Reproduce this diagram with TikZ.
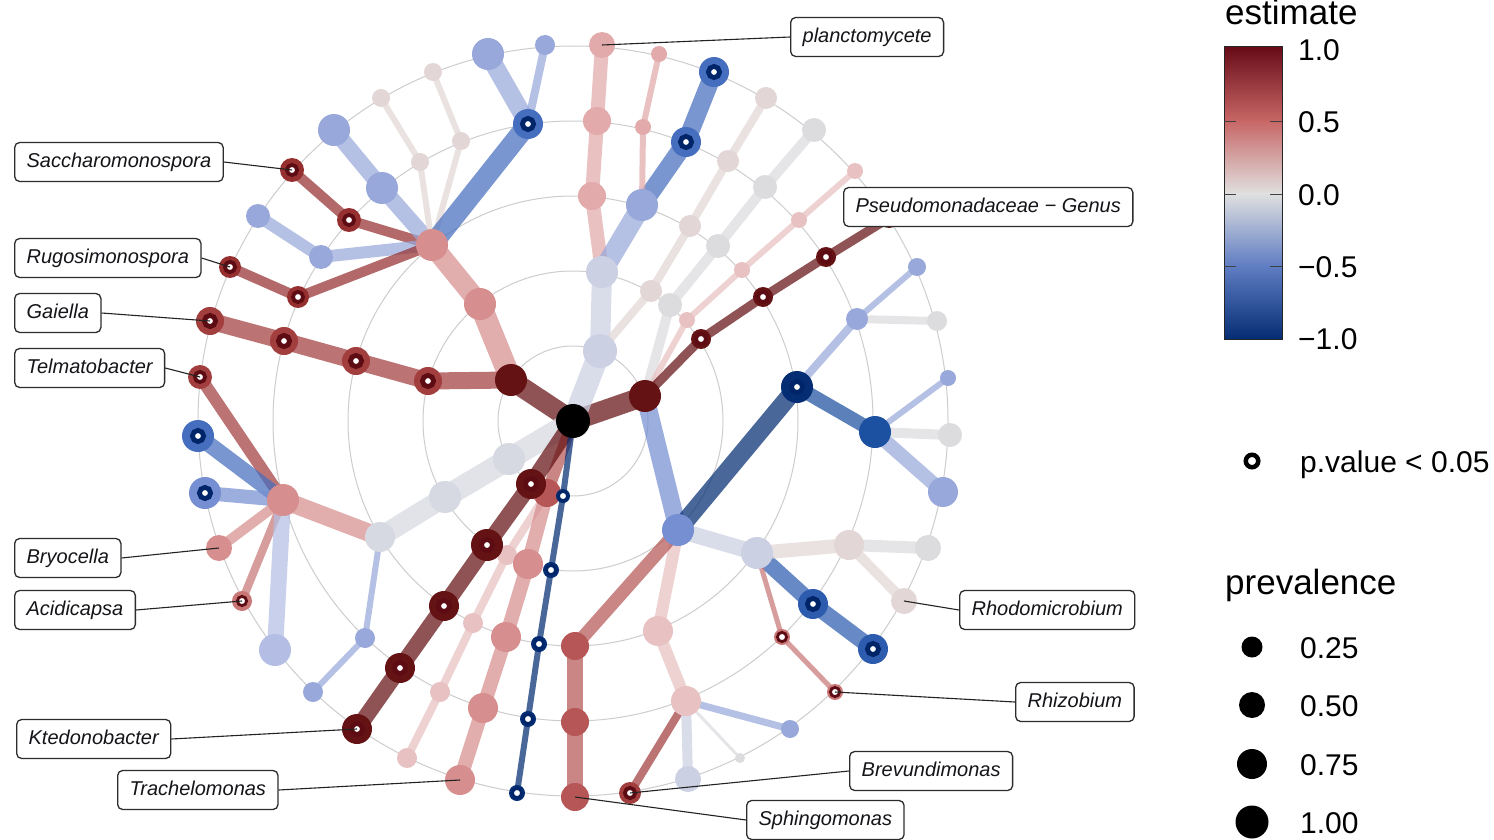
\documentclass[tikz,border=0pt]{standalone}
\usepackage{fontspec}
\setmainfont{Liberation Sans}
\pgfdeclarelayer{ringlayer}
\pgfdeclarelayer{edgelayer}
\pgfsetlayers{ringlayer,edgelayer,main}
\definecolor{dr}{RGB}{100,18,20}
\definecolor{rd1}{RGB}{150,48,48}
\definecolor{rd2}{RGB}{163,62,62}
\definecolor{rd3}{RGB}{182,86,86}
\definecolor{rd4}{RGB}{200,118,118}
\definecolor{pk1}{RGB}{215,142,142}
\definecolor{pk2}{RGB}{226,170,170}
\definecolor{pk3}{RGB}{232,194,194}
\definecolor{pl}{RGB}{226,214,214}
\definecolor{gr}{RGB}{220,220,223}
\definecolor{gr2}{RGB}{214,217,225}
\definecolor{lb0}{RGB}{203,208,227}
\definecolor{lb1}{RGB}{180,190,228}
\definecolor{lb2}{RGB}{152,168,218}
\definecolor{bl1}{RGB}{118,143,210}
\definecolor{bl2}{RGB}{70,110,190}
\definecolor{bl3}{RGB}{28,80,160}
\definecolor{bl3b}{RGB}{45,92,175}
\definecolor{nv}{RGB}{5,45,115}
\definecolor{ringr}{RGB}{92,12,18}
\definecolor{ringb}{RGB}{0,38,105}
\definecolor{est10}{RGB}{103,12,24}
\definecolor{est05}{RGB}{200,102,102}
\definecolor{est00}{RGB}{224,224,224}
\definecolor{estm05}{RGB}{95,125,195}
\definecolor{estm10}{RGB}{5,45,115}
\definecolor{ringgrey}{RGB}{205,205,205}
\definecolor{boxgrey}{RGB}{45,45,45}
\definecolor{labtext}{RGB}{20,20,25}
\definecolor{conngrey}{RGB}{35,35,35}
\tikzset{
  tn/.style={circle,inner sep=0pt,outer sep=0pt,draw=none},
  pdot/.style={circle,inner sep=0pt,outer sep=0pt,fill=white},
  pA/.style={minimum size=11.2pt,line width=4.8pt},
  pB/.style={minimum size=10.2pt,line width=3.8pt},
  pC/.style={minimum size=9.2pt,line width=2.8pt},
  te/.style={line cap=round,draw opacity=0.72},
  bgring/.style={draw=ringgrey,line width=1pt},
  lab/.style={draw=boxgrey,line width=1.3pt,rounded corners=5pt,fill=white,
    inner xsep=12pt,inner ysep=0pt,minimum height=39pt,text height=14.5pt,text depth=4pt,
    font=\fontsize{20}{24}\selectfont\itshape,text=labtext,anchor=west},
  conn/.style={draw=conngrey,line width=1.1pt},
  legtxt/.style={font=\fontsize{30}{36}\selectfont,anchor=base west,inner sep=0pt,text=black},
  legtitle/.style={font=\fontsize{35}{42}\selectfont,anchor=base west,inner sep=0pt,text=black},
}
\newcommand\TreeNode[5]{\node[tn,fill=#4,minimum size=#5pt] (#1) at (#2,#3) {};}
\newcommand\PDot[3]{\node[pdot,#3,draw=#2] (#1p) at (#1) {};}
\newcommand\TreeEdge[4]{\draw[te,draw=#3,line width=#4pt] (#1.center) -- (#2.center);}
\begin{document}
\begin{tikzpicture}[x=1pt,y=-1pt]
\useasboundingbox (0,0) rectangle (1494,840);
\begin{pgfonlayer}{ringlayer}
\fill[white] (0,0) rectangle (1494,840);
\foreach \r in {75,150,225,300,375} {\draw[bgring] (573,421) circle[radius=\r];}
\end{pgfonlayer}

% ---------- tree nodes ----------
% branch A1
\TreeNode{b1}{480}{304}{pk1}{32}
\TreeNode{h1}{432}{245}{pk1}{32}
\TreeNode{c1}{349}{220}{rd1}{24}
\TreeNode{c1g}{292}{170}{rd1}{24}
\TreeNode{c2}{321}{257}{lb2}{24}
\TreeNode{c2g}{258}{216}{lb2}{24}
\TreeNode{c3}{298}{297}{rd1}{22}
\TreeNode{c3g}{230}{267}{rd1}{22}
\TreeNode{c4}{382}{188}{lb2}{32}
\TreeNode{c4g}{334}{130}{lb2}{32}
\TreeNode{c5}{420}{162}{pl}{18}
\TreeNode{c5g}{381}{98}{pl}{18}
\TreeNode{c6}{461}{141}{pl}{18}
\TreeNode{c6g}{433}{72}{pl}{18}
\TreeNode{c7}{528}{124}{bl2}{30}
\TreeNode{c7g}{488}{54}{lb2}{32}
\TreeNode{c7h}{545}{45}{lb2}{20}
\TreeNode{g1}{428}{381}{rd2}{28}
\TreeNode{g2}{356}{361}{rd2}{28}
\TreeNode{g3}{284}{341}{rd2}{28}
\TreeNode{g4}{210}{321}{rd2}{28}
% branch A3
\TreeNode{d1}{602}{272}{lb0}{32}
\TreeNode{d2}{592}{196}{pk2}{28}
\TreeNode{d3}{597}{121}{pk2}{28}
\TreeNode{d4}{602}{45}{pk2}{26}
\TreeNode{e4}{643}{127}{pk2}{16}
\TreeNode{e5}{659}{54}{pk2}{16}
\TreeNode{e1}{642}{205}{lb2}{32}
\TreeNode{e2}{686}{142}{bl2}{30}
\TreeNode{e3}{714}{72}{bl2}{30}
\TreeNode{f1}{651}{291}{pl}{22}
\TreeNode{f2}{690}{226}{pl}{22}
\TreeNode{f3}{728}{161}{pl}{22}
\TreeNode{f4}{766}{98}{pl}{22}
% branch A2
\TreeNode{i1}{670}{305}{gr}{24}
\TreeNode{i2}{718}{246}{gr}{24}
\TreeNode{i3}{765}{187}{gr}{24}
\TreeNode{i4}{814}{130}{gr}{24}
\TreeNode{j1}{687}{320}{pk3}{16}
\TreeNode{j2}{742}{270}{pk3}{16}
\TreeNode{j3}{799}{220}{pk3}{16}
\TreeNode{j4}{855}{171}{pk3}{16}
\TreeNode{k1}{701}{339}{dr}{20}
\TreeNode{k2}{763}{297}{dr}{20}
\TreeNode{k3}{826}{257}{dr}{20}
\TreeNode{k4}{889}{218}{dr}{20}
\TreeNode{m1}{678}{530}{bl1}{32}
\TreeNode{m2}{797}{387}{nv}{32}
\TreeNode{m3}{875}{432}{bl3}{32}
\TreeNode{m4}{943}{492}{lb2}{30}
\TreeNode{m5}{950}{435}{gr}{24}
\TreeNode{m6}{948}{378}{lb2}{16}
\TreeNode{m7}{857}{319}{lb2}{22}
\TreeNode{m8}{917}{267}{lb2}{18}
\TreeNode{m9}{937}{321}{gr}{20}
\TreeNode{n1}{757}{553}{lb0}{32}
\TreeNode{n2}{813}{604}{bl3b}{30}
\TreeNode{n3}{873}{649}{bl3b}{30}
\TreeNode{n4}{782}{637}{rd4}{16}
\TreeNode{n5}{835}{692}{rd4}{16}
\TreeNode{n6}{849}{545}{pl}{30}
\TreeNode{n7}{928}{548}{gr}{26}
\TreeNode{n8}{904}{601}{pl}{26}
\TreeNode{o1}{658}{631}{pk3}{30}
\TreeNode{o2}{686}{701}{pk3}{30}
\TreeNode{o3}{630}{793}{rd2}{22}
\TreeNode{o4}{688}{779}{lb0}{26}
\TreeNode{o5}{740}{758}{gr}{10}
\TreeNode{o6}{790}{729}{lb2}{18}
\TreeNode{q1}{575}{646}{rd3}{28}
\TreeNode{q2}{575}{722}{rd3}{28}
\TreeNode{q3}{575}{797}{rd3}{28}
% branch A4
\TreeNode{s1}{445}{497}{gr2}{32}
\TreeNode{s2}{380}{537}{gr2}{30}
\TreeNode{h2}{283}{500}{pk1}{32}
\TreeNode{t1}{200}{377}{rd2}{24}
\TreeNode{t2}{198}{436}{bl2}{32}
\TreeNode{t3}{205}{493}{bl1}{32}
\TreeNode{t4}{219}{548}{pk1}{26}
\TreeNode{t5}{242}{601}{rd4}{20}
\TreeNode{t6}{275}{650}{lb1}{32}
\TreeNode{u1}{365}{638}{lb2}{20}
\TreeNode{u2}{313}{692}{lb2}{20}
% branch A6
\TreeNode{w1}{507}{555}{pk3}{20}
\TreeNode{w2}{473}{623}{pk3}{20}
\TreeNode{w3}{440}{692}{pk3}{20}
\TreeNode{w4}{407}{758}{pk3}{20}
\TreeNode{x1}{528}{564}{pk1}{30}
\TreeNode{x2}{506}{637}{pk1}{30}
\TreeNode{x3}{483}{708}{pk1}{30}
\TreeNode{x4}{460}{780}{pk1}{30}
% branch A5
\TreeNode{v1}{487}{545}{dr}{32}
\TreeNode{v2}{444}{606}{dr}{30}
\TreeNode{v3}{400}{668}{dr}{30}
\TreeNode{v4}{357}{729}{dr}{30}
% branch A7
\TreeNode{y1}{551}{570}{nv}{16}
\TreeNode{y2}{539}{644}{nv}{16}
\TreeNode{y3}{528}{719}{nv}{16}
\TreeNode{y4}{517}{793}{nv}{16}
% level 1 and root
\TreeNode{a1}{511}{380}{dr}{32}
\TreeNode{a2}{645}{396}{dr}{32}
\TreeNode{a3}{600}{351}{lb0}{34}
\TreeNode{a4}{509}{459}{gr2}{32}
\TreeNode{a6}{547}{493}{rd3}{28}
\TreeNode{a5}{531}{484}{dr}{30}
\TreeNode{a7}{563}{496}{nv}{14}
\TreeNode{rt}{573}{421}{black}{34}

% ---------- significance marks ----------
\PDot{a5}{ringr}{pA}
\PDot{a7}{ringb}{pC}
\PDot{c1}{ringr}{pB}
\PDot{c1g}{ringr}{pB}
\PDot{c3}{ringr}{pB}
\PDot{c3g}{ringr}{pB}
\PDot{c7}{ringb}{pA}
\PDot{g1}{ringr}{pA}
\PDot{g2}{ringr}{pA}
\PDot{g3}{ringr}{pA}
\PDot{g4}{ringr}{pA}
\PDot{e2}{ringb}{pA}
\PDot{e3}{ringb}{pA}
\PDot{k1}{ringr}{pB}
\PDot{k2}{ringr}{pB}
\PDot{k3}{ringr}{pB}
\PDot{k4}{ringr}{pB}
\PDot{m2}{ringb}{pA}
\PDot{n2}{ringb}{pA}
\PDot{n3}{ringb}{pA}
\PDot{n4}{ringr}{pC}
\PDot{n5}{ringr}{pC}
\PDot{o3}{ringr}{pB}
\PDot{t1}{ringr}{pB}
\PDot{t2}{ringb}{pA}
\PDot{t3}{ringb}{pA}
\PDot{t5}{ringr}{pC}
\PDot{v1}{ringr}{pA}
\PDot{v2}{ringr}{pA}
\PDot{v3}{ringr}{pA}
\PDot{v4}{ringr}{pA}
\PDot{y1}{ringb}{pC}
\PDot{y2}{ringb}{pC}
\PDot{y3}{ringb}{pC}
\PDot{y4}{ringb}{pC}

% ---------- edges ----------
\begin{pgfonlayer}{edgelayer}
\TreeEdge{rt}{a1}{dr}{20}
\TreeEdge{rt}{a2}{dr}{20}
\TreeEdge{rt}{a3}{lb0}{22}
\TreeEdge{rt}{a4}{gr2}{22}
\TreeEdge{rt}{a6}{rd3}{12}
\TreeEdge{rt}{a5}{dr}{16}
\TreeEdge{rt}{a7}{nv}{6}
\TreeEdge{a1}{b1}{pk1}{22}
\TreeEdge{b1}{h1}{pk1}{20}
\TreeEdge{h1}{c1}{rd1}{10}
\TreeEdge{c1}{c1g}{rd1}{10}
\TreeEdge{h1}{c2}{lb2}{12}
\TreeEdge{c2}{c2g}{lb2}{12}
\TreeEdge{h1}{c3}{rd1}{10}
\TreeEdge{c3}{c3g}{rd1}{10}
\TreeEdge{h1}{c4}{lb2}{16}
\TreeEdge{c4}{c4g}{lb2}{16}
\TreeEdge{h1}{c5}{pl}{6}
\TreeEdge{c5}{c5g}{pl}{6}
\TreeEdge{h1}{c6}{pl}{6}
\TreeEdge{c6}{c6g}{pl}{6}
\TreeEdge{h1}{c7}{bl2}{20}
\TreeEdge{c7}{c7g}{lb2}{18}
\TreeEdge{c7}{c7h}{lb2}{8}
\TreeEdge{a1}{g1}{rd2}{17}
\TreeEdge{g1}{g2}{rd2}{17}
\TreeEdge{g2}{g3}{rd2}{17}
\TreeEdge{g3}{g4}{rd2}{17}
\TreeEdge{a3}{d1}{lb0}{20}
\TreeEdge{d1}{d2}{pk2}{14}
\TreeEdge{d2}{d3}{pk2}{14}
\TreeEdge{d3}{d4}{pk2}{14}
\TreeEdge{d1}{e1}{lb2}{20}
\TreeEdge{e1}{e2}{bl2}{18}
\TreeEdge{e2}{e3}{bl2}{18}
\TreeEdge{e1}{e4}{pk2}{6}
\TreeEdge{e4}{e5}{pk2}{6}
\TreeEdge{a3}{f1}{pl}{8}
\TreeEdge{f1}{f2}{pl}{8}
\TreeEdge{f2}{f3}{pl}{8}
\TreeEdge{f3}{f4}{pl}{8}
\TreeEdge{a2}{i1}{gr}{10}
\TreeEdge{i1}{i2}{gr}{10}
\TreeEdge{i2}{i3}{gr}{10}
\TreeEdge{i3}{i4}{gr}{10}
\TreeEdge{a2}{j1}{pk3}{6}
\TreeEdge{j1}{j2}{pk3}{6}
\TreeEdge{j2}{j3}{pk3}{6}
\TreeEdge{j3}{j4}{pk3}{6}
\TreeEdge{a2}{k1}{dr}{9}
\TreeEdge{k1}{k2}{dr}{9}
\TreeEdge{k2}{k3}{dr}{9}
\TreeEdge{k3}{k4}{dr}{9}
\TreeEdge{a2}{m1}{bl1}{18}
\TreeEdge{m1}{m2}{nv}{18}
\TreeEdge{m2}{m3}{bl3}{14}
\TreeEdge{m3}{m4}{lb2}{14}
\TreeEdge{m3}{m5}{gr}{10}
\TreeEdge{m3}{m6}{lb2}{6}
\TreeEdge{m2}{m7}{lb2}{8}
\TreeEdge{m7}{m8}{lb2}{6}
\TreeEdge{m7}{m9}{gr}{8}
\TreeEdge{m1}{n1}{lb0}{16}
\TreeEdge{n1}{n2}{bl3b}{16}
\TreeEdge{n2}{n3}{bl3b}{16}
\TreeEdge{n1}{n4}{rd4}{5}
\TreeEdge{n4}{n5}{rd4}{5}
\TreeEdge{n1}{n6}{pl}{14}
\TreeEdge{n6}{n7}{gr}{12}
\TreeEdge{n6}{n8}{pl}{10}
\TreeEdge{m1}{o1}{pk3}{12}
\TreeEdge{o1}{o2}{pk3}{12}
\TreeEdge{o2}{o3}{rd2}{8}
\TreeEdge{o2}{o4}{lb0}{10}
\TreeEdge{o2}{o5}{gr}{3}
\TreeEdge{o2}{o6}{lb2}{7}
\TreeEdge{m1}{q1}{rd3}{13}
\TreeEdge{q1}{q2}{rd3}{16}
\TreeEdge{q2}{q3}{rd3}{16}
\TreeEdge{a4}{s1}{gr2}{22}
\TreeEdge{s1}{s2}{gr2}{20}
\TreeEdge{s2}{h2}{pk1}{18}
\TreeEdge{h2}{t1}{rd2}{12}
\TreeEdge{h2}{t2}{bl2}{16}
\TreeEdge{h2}{t3}{bl1}{14}
\TreeEdge{h2}{t4}{pk1}{10}
\TreeEdge{h2}{t5}{rd4}{8}
\TreeEdge{h2}{t6}{lb1}{16}
\TreeEdge{s2}{u1}{lb2}{6}
\TreeEdge{u1}{u2}{lb2}{6}
\TreeEdge{a6}{w1}{pk3}{8}
\TreeEdge{w1}{w2}{pk3}{8}
\TreeEdge{w2}{w3}{pk3}{8}
\TreeEdge{w3}{w4}{pk3}{8}
\TreeEdge{a6}{x1}{pk1}{14}
\TreeEdge{x1}{x2}{pk1}{14}
\TreeEdge{x2}{x3}{pk1}{14}
\TreeEdge{x3}{x4}{pk1}{14}
\TreeEdge{a5}{v1}{dr}{16}
\TreeEdge{v1}{v2}{dr}{16}
\TreeEdge{v2}{v3}{dr}{16}
\TreeEdge{v3}{v4}{dr}{16}
\TreeEdge{a7}{y1}{nv}{6}
\TreeEdge{y1}{y2}{nv}{6}
\TreeEdge{y2}{y3}{nv}{6}
\TreeEdge{y3}{y4}{nv}{6}
\end{pgfonlayer}

% ---------- labels ----------
\node[lab] (Lpla) at (790,37) {planctomycete};
\node[lab] (Lsac) at (14,162) {Saccharomonospora};
\node[lab] (Lpse) at (843,207) {Pseudomonadaceae − Genus};
\node[lab] (Lrug) at (14,258) {Rugosimonospora};
\node[lab] (Lgai) at (14,313) {Gaiella};
\node[lab] (Ltel) at (14,368) {Telmatobacter};
\node[lab] (Lbry) at (14,558) {Bryocella};
\node[lab] (Laci) at (14,610) {Acidicapsa};
\node[lab] (Lrho) at (959,610) {Rhodomicrobium};
\node[lab] (Lrhi) at (1015,702) {Rhizobium};
\node[lab] (Lkte) at (16,739) {Ktedonobacter};
\node[lab] (Lbre) at (849,771) {Brevundimonas};
\node[lab] (Ltra) at (117,790) {Trachelomonas};
\node[lab] (Lsph) at (746,820) {Sphingomonas};
\draw[conn] (Lpla.west) -- (d4.center);
\draw[conn] (Lsac.east) -- (c1g.center);
\draw[conn] (Lrug.east) -- (c3g.center);
\draw[conn] (Lgai.east) -- (g4.center);
\draw[conn] (Ltel.east) -- (t1.center);
\draw[conn] (Lbry.east) -- (t4.center);
\draw[conn] (Laci.east) -- (t5.center);
\draw[conn] (Lkte.east) -- (v4.center);
\draw[conn] (Ltra.east) -- (x4.center);
\draw[conn] (Lsph.west) -- (q3.center);
\draw[conn] (Lbre.west) -- (o3.center);
\draw[conn] (Lrhi.west) -- (n5.center);
\draw[conn] (Lrho.west) -- (n8.center);

% ---------- legend ----------
\node[legtitle] (estT) at (1225,25) {estimate};
\shade[top color=est10,bottom color=est00,middle color=est05] (1224,47) rectangle (1282,194);
\shade[top color=est00,bottom color=estm10,middle color=estm05] (1224,193.5) rectangle (1282,339);
\draw[draw=black!85,line width=1pt] (1224,47) rectangle (1282,339);
\foreach \yy in {122,194,266} {
  \draw[draw=black!75,line width=1pt] (1224,\yy) -- (1236,\yy);
  \draw[draw=black!75,line width=1pt] (1270,\yy) -- (1282,\yy);
}
\node[legtxt] (tk1) at (1298,61) {1.0};
\node[legtxt] (tk2) at (1298,133) {0.5};
\node[legtxt] (tk3) at (1298,205) {0.0};
\node[legtxt] (tk4) at (1298,277) {−0.5};
\node[legtxt] (tk5) at (1298,349) {−1.0};
\node[circle,inner sep=0pt,draw=black,fill=white,line width=4.5pt,minimum size=12.5pt] (pkey) at (1252,461) {};
\node[legtxt] (pkeyT) at (1300,472) {p.value < 0.05};
\node[legtitle] (prevT) at (1225,594) {prevalence};
\node[tn,fill=black,minimum size=21pt] (pv1) at (1252,647) {};
\node[tn,fill=black,minimum size=26pt] (pv2) at (1252,705) {};
\node[tn,fill=black,minimum size=30pt] (pv3) at (1252,764) {};
\node[tn,fill=black,minimum size=33pt] (pv4) at (1252,822) {};
\node[legtxt] (pv1T) at (1300,658) {0.25};
\node[legtxt] (pv2T) at (1300,716) {0.50};
\node[legtxt] (pv3T) at (1300,775) {0.75};
\node[legtxt] (pv4T) at (1300,833) {1.00};
\end{tikzpicture}
\end{document}
